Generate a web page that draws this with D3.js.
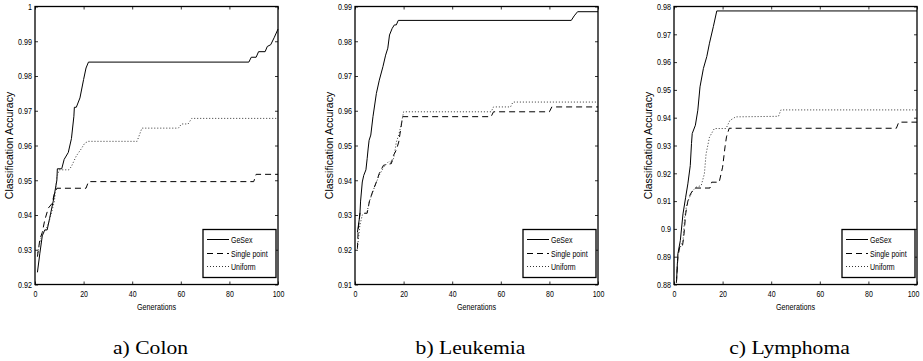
<!DOCTYPE html>
<html>
<head>
<meta charset="utf-8">
<script src="https://cdn.jsdelivr.net/npm/d3@7"></script>
<style>
  body { margin: 0; background: #fff; }
  svg { display: block; }
  .axis path { display: none; }
  .axis line { stroke: #000; stroke-width: 0.8; }
  .axis text { font-family: "Liberation Sans", Arial, sans-serif; font-size: 9px; fill: #000; }
  .small { font-family: "Liberation Sans", Arial, sans-serif; font-size: 9px; fill: #000; }
  .caption { font-family: "Liberation Serif", "DejaVu Serif", serif; font-size: 18px; fill: #000; }
</style>
</head>
<body>
<div id="chart"></div>
<script>
// series / labels
const seriesNames = ['GeSex', 'Single point', 'Uniform'];
const captions = ['a) Colon', 'b) Leukemia', 'c) Lymphoma'];
const genTicks = [0, 20, 40, 60, 80, 100];

// y ranges of the three panels
const colonRange = [0.92, 1];
const leukemiaRange = [0.91, 0.99];
const lymphomaRange = [0.88, 0.98];

// [generation, accuracy]
const colonGeSex = [[1,0.9235],[2,0.929],[3,0.934],[4,0.9357],[5,0.9357],[6,0.939],[7.5,0.944],[8,0.946],[9,0.950],[9.2,0.9533],[11,0.9533],[12,0.956],[13.7,0.958],[15,0.962],[16,0.9684],[16.2,0.971],[17,0.971],[18.5,0.9737],[20,0.979],[21,0.9823],[22,0.984],[88,0.984],[89,0.9854],[91,0.9854],[92,0.987],[94.7,0.987],[95.6,0.9885],[97,0.989],[98.4,0.991],[100,0.9935]];
const colonSingle = [[1,0.928],[2,0.933],[3,0.935],[4,0.9385],[5.5,0.942],[7,0.9433],[8,0.9462],[9,0.9477],[21,0.9477],[22,0.9496],[90,0.9496],[91,0.9517],[100,0.9517]];
const colonUniform = [[1,0.929],[2.7,0.934],[5,0.9366],[6,0.9386],[8,0.944],[9,0.951],[10,0.953],[14,0.953],[15,0.954],[17,0.957],[19,0.959],[20.5,0.9607],[22,0.9612],[42,0.9612],[44,0.965],[59,0.965],[60.3,0.9662],[63,0.9662],[64.5,0.9678],[100,0.9678]];

const leukemiaGeSex = [[1,0.925],[2,0.930],[2.3,0.934],[3,0.9395],[3.6,0.9414],[4.5,0.943],[5,0.9462],[5.4,0.949],[5.8,0.9515],[6.5,0.953],[7.4,0.9583],[8.8,0.965],[10,0.9688],[11.5,0.9727],[12.6,0.976],[13.5,0.978],[14.2,0.9818],[15.3,0.9837],[16.2,0.9847],[17,0.9847],[17.8,0.986],[89,0.986],[90.2,0.9873],[91.6,0.9885],[100,0.9885]];
const leukemiaSingle = [[1,0.9203],[1.3,0.9256],[2,0.9305],[5,0.9305],[6,0.9342],[7.4,0.937],[8.8,0.9395],[10,0.942],[11.7,0.9443],[15,0.9448],[15.5,0.9467],[17,0.9487],[18,0.951],[19.6,0.9583],[56,0.9583],[57,0.9597],[80,0.9597],[81,0.9611],[100,0.9611]];
const leukemiaUniform = [[1,0.9205],[2,0.927],[3,0.930],[5,0.931],[6,0.934],[8,0.938],[10,0.9415],[12,0.944],[14,0.9455],[15,0.945],[16,0.9465],[17,0.951],[18,0.953],[19,0.956],[20,0.9597],[56,0.9597],[57,0.9611],[64,0.9611],[65,0.9625],[100,0.9625]];

const lymphomaGeSex = [[1,0.8807],[1.6,0.891],[2.6,0.8958],[3.7,0.9054],[4.8,0.9114],[5.7,0.9162],[6.7,0.9228],[7.2,0.9307],[7.5,0.9343],[8.8,0.9373],[9.8,0.9427],[10.7,0.9511],[12.1,0.9577],[13.5,0.962],[14.6,0.9668],[16.2,0.9728],[17.6,0.9784],[100,0.9784]];
const lymphomaSingle = [[1,0.8807],[1.6,0.8897],[2.3,0.8934],[3.4,0.8934],[4,0.897],[4.8,0.9054],[5.7,0.910],[6.8,0.9126],[8.4,0.9147],[14.8,0.9147],[15.5,0.9168],[18.6,0.9168],[20,0.9222],[21,0.9295],[21.6,0.9331],[22.7,0.9362],[91.5,0.9362],[92.5,0.9384],[100,0.9384]];
const lymphomaUniform = [[1,0.8807],[1.6,0.891],[2.6,0.8934],[3.7,0.8958],[4.4,0.9042],[5.3,0.909],[6.4,0.9114],[7.8,0.9138],[9.1,0.915],[11.2,0.9156],[12.5,0.9198],[13.2,0.927],[14.6,0.933],[16.6,0.9361],[21.4,0.9361],[23,0.939],[25.4,0.9403],[43,0.9405],[44,0.9428],[100,0.9428]];

const panels = [
    { range: colonRange, series: [colonGeSex, colonSingle, colonUniform] },
    { range: leukemiaRange, series: [leukemiaGeSex, leukemiaSingle, leukemiaUniform] },
    { range: lymphomaRange, series: [lymphomaGeSex, lymphomaSingle, lymphomaUniform] }
];

const W = 923, H = 361;
const panelLeft = [35, 355, 674];
const plotW = 243, plotTop = 6.5, plotH = 278;
const dashes = [null, '6,4', '1,2'];
const strokes = ['#000', '#000', '#333'];

const svg = d3.select('#chart').append('svg').attr('width', W).attr('height', H);

// squeeze narrow-looking text the way the original figure renders it
function squeeze(sel, k) {
    sel.each(function() {
        const w = this.getComputedTextLength();
        if (w > 0) d3.select(this).attr('textLength', w * k).attr('lengthAdjust', 'spacingAndGlyphs');
    });
}

const fmt = d => String(+d.toFixed(2));

panels.forEach((p, i) => {
    const g = svg.append('g').attr('transform', `translate(${panelLeft[i]},${plotTop})`);
    const x = d3.scaleLinear().domain([0, 100]).range([0, plotW]);
    const y = d3.scaleLinear().domain(p.range).range([plotH, 0]);
    const yTicks = d3.range(Math.round((p.range[1] - p.range[0]) / 0.01) + 1).map(k => p.range[0] + k * 0.01);

    // ticks on all four sides, pointing inward
    const bx = g.append('g').attr('class', 'axis').attr('transform', `translate(0,${plotH})`)
        .call(d3.axisBottom(x).tickValues(genTicks).tickSizeInner(-3).tickSizeOuter(0).tickPadding(6));
    g.append('g').attr('class', 'axis')
        .call(d3.axisTop(x).tickValues(genTicks).tickSizeInner(-3).tickSizeOuter(0).tickFormat(''));
    const ly = g.append('g').attr('class', 'axis')
        .call(d3.axisLeft(y).tickValues(yTicks).tickSizeInner(-3).tickSizeOuter(0).tickPadding(3).tickFormat(fmt));
    g.append('g').attr('class', 'axis').attr('transform', `translate(${plotW},0)`)
        .call(d3.axisRight(y).tickValues(yTicks).tickSizeInner(-3).tickSizeOuter(0).tickFormat(''));
    squeeze(bx.selectAll('text'), 0.78);
    squeeze(ly.selectAll('text'), 0.8);
    if (i === panels.length - 1) bx.selectAll('text').filter(d => d === 100).attr('dx', -4);

    const line = d3.line().x(d => x(d[0])).y(d => y(d[1]));
    p.series.forEach((s, k) => {
        g.append('path').datum(s)
            .attr('fill', 'none')
            .attr('stroke', strokes[k])
            .attr('stroke-width', 1)
            .attr('stroke-dasharray', dashes[k])
            .attr('d', line);
    });

    g.append('rect').attr('width', plotW).attr('height', plotH)
        .attr('fill', 'none').attr('stroke', '#000').attr('stroke-width', 1.3);

    // axis titles
    const gt = g.append('text').attr('class', 'small').attr('x', plotW / 2).attr('y', plotH + 25)
        .attr('text-anchor', 'middle').text('Generations');
    squeeze(gt, 0.8);
    g.append('text').attr('class', 'small').style('font-size', '10.5px')
        .attr('transform', `translate(-22,${plotH / 2}) rotate(-90)`)
        .attr('text-anchor', 'middle').text('Classification Accuracy');

    // legend
    const lg = g.append('g').attr('transform', `translate(${plotW - 75},${plotH - 55})`);
    lg.append('rect').attr('width', 73).attr('height', 48)
        .attr('fill', '#fff').attr('stroke', '#000').attr('stroke-width', 1.3);
    seriesNames.forEach((name, k) => {
        const ry = [10, 24, 37][k];
        lg.append('line').attr('x1', 4).attr('x2', 26).attr('y1', ry).attr('y2', ry)
            .attr('stroke', strokes[k]).attr('stroke-width', 1).attr('stroke-dasharray', dashes[k]);
        const t = lg.append('text').attr('class', 'small').attr('x', 28).attr('y', ry + 3).text(name);
        squeeze(t, 0.78);
    });

    // caption
    const c = svg.append('text').attr('class', 'caption')
        .attr('x', panelLeft[i] + plotW / 2 - 6).attr('y', 354)
        .attr('text-anchor', 'middle').text(captions[i]);
    squeeze(c, 1.2);
});
</script>
</body>
</html>
